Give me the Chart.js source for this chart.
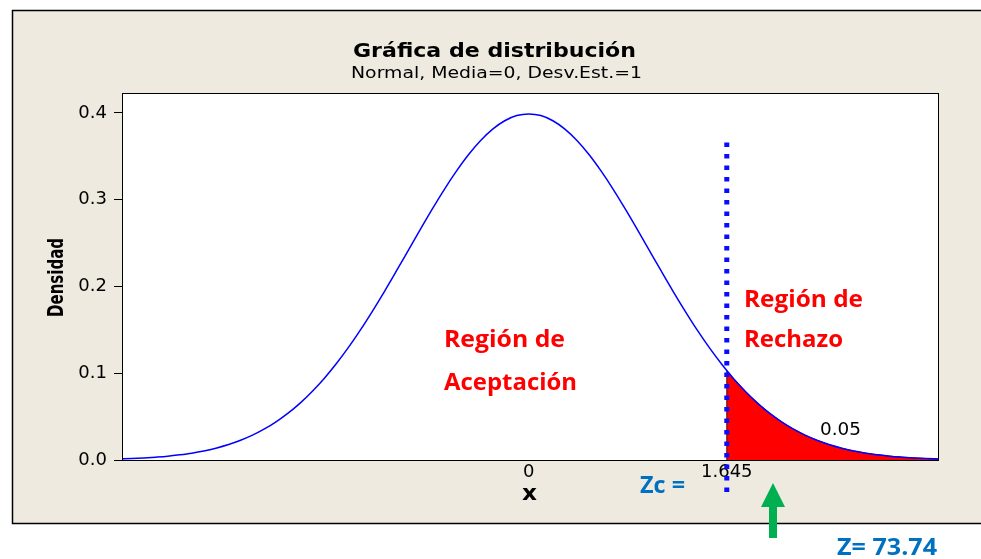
<!DOCTYPE html>
<html>
<head>
<meta charset="utf-8">
<script src="https://cdn.jsdelivr.net/npm/chart.js@4"></script>
<style>
  html, body { margin: 0; padding: 0; background: #fff; }
  canvas { display: block; }
</style>
</head>
<body>
<canvas id="grafica" width="981" height="559"></canvas>
<script>
// valores (curva normal estandar)
const xs = [-3.4, -3.3, -3.2, -3.1, -3.0, -2.9, -2.8, -2.7, -2.6, -2.5, -2.4, -2.3, -2.2, -2.1, -2.0,
  -1.9, -1.8, -1.7, -1.6, -1.5, -1.4, -1.3, -1.2, -1.1, -1.0, -0.9, -0.8, -0.7, -0.6, -0.5, -0.4,
  -0.3, -0.2, -0.1, 0.0, 0.1, 0.2, 0.3, 0.4, 0.5, 0.6, 0.7, 0.8, 0.9, 1.0, 1.1, 1.2, 1.3, 1.4,
  1.5, 1.6, 1.645, 1.7, 1.8, 1.9, 2.0, 2.1, 2.2, 2.3, 2.4, 2.5, 2.6, 2.7, 2.8, 2.9, 3.0, 3.1,
  3.2, 3.3, 3.4];
const densidad = [0.0012, 0.0017, 0.0024, 0.0033, 0.0044, 0.0060, 0.0079, 0.0104, 0.0136, 0.0175,
  0.0224, 0.0283, 0.0355, 0.0440, 0.0540, 0.0656, 0.0790, 0.0940, 0.1109, 0.1295, 0.1497, 0.1714,
  0.1942, 0.2179, 0.2420, 0.2661, 0.2897, 0.3123, 0.3332, 0.3521, 0.3683, 0.3814, 0.3910, 0.3970,
  0.3989, 0.3970, 0.3910, 0.3814, 0.3683, 0.3521, 0.3332, 0.3123, 0.2897, 0.2661, 0.2420, 0.2179,
  0.1942, 0.1714, 0.1497, 0.1295, 0.1109, 0.1031, 0.0940, 0.0790, 0.0656, 0.0540, 0.0440, 0.0355,
  0.0283, 0.0224, 0.0175, 0.0136, 0.0104, 0.0079, 0.0060, 0.0044, 0.0033, 0.0024, 0.0017, 0.0012];

// region de rechazo (cola derecha)
const colaX = [1.645, 1.645, 1.7, 1.8, 1.9, 2.0, 2.1, 2.2, 2.3, 2.4, 2.5, 2.6, 2.7, 2.8, 2.9, 3.0,
  3.1, 3.2, 3.3, 3.4];
const colaY = [0, 0.1031, 0.0940, 0.0790, 0.0656, 0.0540, 0.0440, 0.0355, 0.0283, 0.0224, 0.0175,
  0.0136, 0.0104, 0.0079, 0.0060, 0.0044, 0.0033, 0.0024, 0.0017, 0.0012];

const zc = 1.645;
const lineaZcY = [0.366, -0.040];
const ticksY = [0, 0.1, 0.2, 0.3, 0.4];
const ticksX = [0, 1.645];

const fondo = "#EEEAE0";
const azulTexto = "#0070C0";

// escribe un texto ajustado a un ancho dado (x = izquierda)
function textoAncho(ctx, txt, x, y, ancho) {
  const w = ctx.measureText(txt).width;
  ctx.save();
  ctx.translate(x, y);
  ctx.scale(ancho / w, 1);
  ctx.fillText(txt, 0, 0);
  ctx.restore();
}

const fondoPlugin = {
  id: "fondo",
  beforeDraw(chart) {
    const ctx = chart.ctx;
    const a = chart.chartArea;
    ctx.save();
    ctx.fillStyle = "#fff";
    ctx.fillRect(0, 0, chart.width, chart.height);
    ctx.fillStyle = fondo;
    ctx.fillRect(12, 10, 975, 513);
    ctx.strokeStyle = "#000";
    ctx.lineWidth = 1.5;
    ctx.strokeRect(12.5, 10.5, 975, 513);
    ctx.fillStyle = "#fff";
    ctx.fillRect(a.left, a.top, a.right - a.left, a.bottom - a.top);
    ctx.restore();
  },
  afterDraw(chart) {
    const ctx = chart.ctx;
    const a = chart.chartArea;
    ctx.save();
    ctx.strokeStyle = "#000";
    ctx.lineWidth = 1;
    ctx.strokeRect(a.left + 0.5, a.top + 0.5, a.right - a.left, a.bottom - a.top);

    ctx.fillStyle = "#000";
    ctx.textAlign = "left";
    ctx.textBaseline = "alphabetic";
    ctx.font = "bold 19px 'DejaVu Sans'";
    textoAncho(ctx, "Gráfica de distribución", 353, 57, 283);
    ctx.font = "15px 'DejaVu Sans'";
    textoAncho(ctx, "Normal, Media=0, Desv.Est.=1", 351, 78, 291);
    ctx.font = "bold 22px 'DejaVu Sans'";
    textoAncho(ctx, "x", 522, 500, 15);

    ctx.save();
    ctx.translate(63, 317);
    ctx.rotate(-Math.PI / 2);
    ctx.font = "bold 21px 'DejaVu Sans'";
    textoAncho(ctx, "Densidad", 0, 0, 79);
    ctx.restore();

    ctx.font = "18px 'DejaVu Sans'";
    textoAncho(ctx, "0.05", 820, 435, 41);

    ctx.fillStyle = "#FF0000";
    ctx.font = "bold 24px 'Open Sans'";
    textoAncho(ctx, "Región de", 444, 347, 121);
    textoAncho(ctx, "Aceptación", 444, 390, 133);
    textoAncho(ctx, "Región de", 744, 307, 119);
    textoAncho(ctx, "Rechazo", 744, 347, 99);

    ctx.fillStyle = azulTexto;
    textoAncho(ctx, "Zc =", 640, 493, 45);
    textoAncho(ctx, "Z= 73.74", 837, 555, 100);

    // flecha verde
    ctx.fillStyle = "#00B050";
    ctx.beginPath();
    ctx.moveTo(773, 483);
    ctx.lineTo(785, 507);
    ctx.lineTo(777, 507);
    ctx.lineTo(777, 538);
    ctx.lineTo(769, 538);
    ctx.lineTo(769, 507);
    ctx.lineTo(761, 507);
    ctx.closePath();
    ctx.fill();
    ctx.restore();
  }
};

const config = {
  type: "line",
  data: {
    datasets: [
      {
        data: [{ x: zc, y: lineaZcY[0] }, { x: zc, y: lineaZcY[1] }],
        borderColor: "#0A0AFF",
        borderWidth: 5,
        borderDash: [4.5, 7],
        pointRadius: 0,
        fill: false,
        clip: false,
        order: 0
      },
      {
        data: xs.map((x, i) => ({ x: x, y: densidad[i] })),
        borderColor: "#0000FF",
        borderWidth: 1.5,
        pointRadius: 0,
        fill: false,
        cubicInterpolationMode: "monotone",
        order: 1
      },
      {
        data: colaX.map((x, i) => ({ x: x, y: colaY[i] })),
        borderColor: "#5a0000",
        borderWidth: 1,
        backgroundColor: "#FF0000",
        pointRadius: 0,
        fill: "origin",
        tension: 0,
        order: 2
      }
    ]
  },
  options: {
    responsive: false,
    animation: false,
    layout: { padding: { left: 0, top: 93, right: 43, bottom: 0 } },
    plugins: { legend: { display: false }, tooltip: { enabled: false } },
    scales: {
      x: {
        type: "linear",
        min: -3.38,
        max: 3.4,
        afterBuildTicks: (s) => { s.ticks = ticksX.map((v) => ({ value: v })); },
        afterFit: (s) => { s.height = 99; },
        ticks: {
          autoSkip: false,
          maxRotation: 0,
          padding: 2,
          color: "#000",
          font: { family: "DejaVu Sans", size: 18 },
          callback: (v) => String(v)
        },
        grid: { display: false, drawTicks: false, tickLength: 0 },
        border: { display: true, color: "#000", width: 1 }
      },
      y: {
        min: 0,
        max: 0.423,
        afterBuildTicks: (s) => { s.ticks = ticksY.map((v) => ({ value: v })); },
        afterFit: (s) => { s.width = 122; },
        ticks: {
          padding: 7,
          color: "#000",
          font: { family: "DejaVu Sans", size: 18 },
          callback: (v) => v.toFixed(1)
        },
        grid: { drawOnChartArea: false, drawTicks: true, tickLength: 8, color: "#000" },
        border: { display: true, color: "#000", width: 1 }
      }
    }
  },
  plugins: [fondoPlugin]
};

const ctx = document.getElementById("grafica").getContext("2d");
const grafica = new Chart(ctx, config);
</script>
</body>
</html>
